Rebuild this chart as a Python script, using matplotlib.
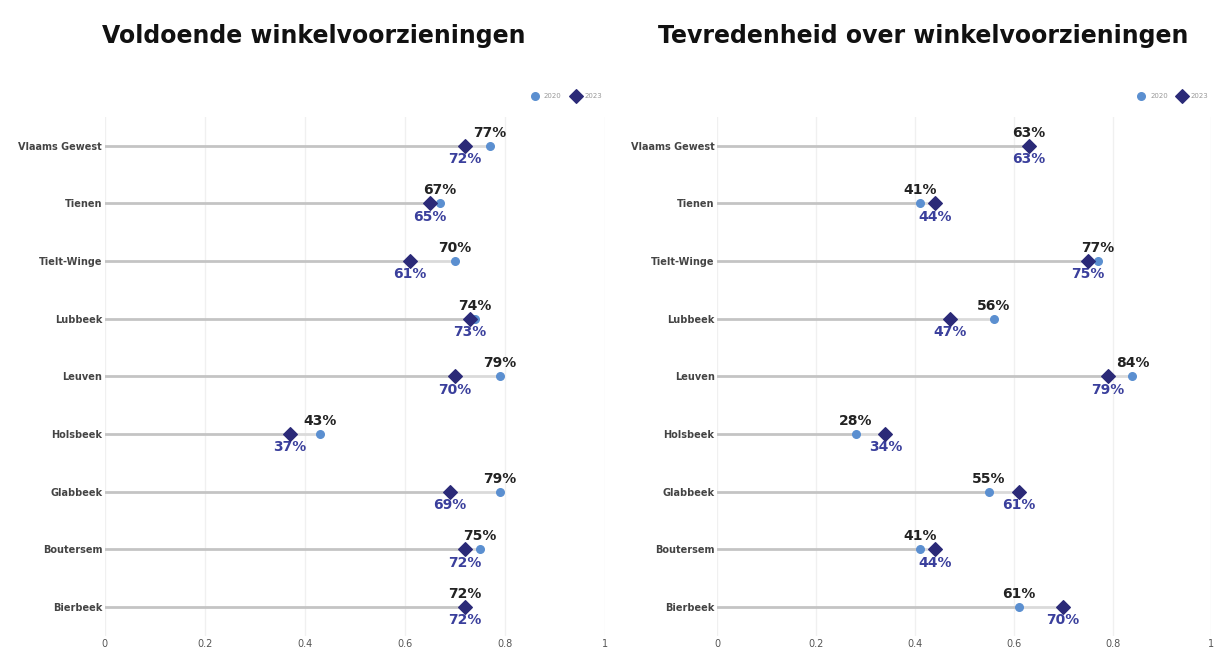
import matplotlib.pyplot as plt
import numpy as np

gemeenten = ["Vlaams Gewest", "Tienen", "Tielt-Winge", "Lubbeek", "Leuven",
             "Holsbeek", "Glabbeek", "Boutersem", "Bierbeek"]

# Voldoende winkelvoorzieningen
voldoende_2020 = [0.77, 0.67, 0.70, 0.74, 0.79, 0.43, 0.79, 0.75, 0.72]
voldoende_2023 = [0.72, 0.65, 0.61, 0.73, 0.70, 0.37, 0.69, 0.72, 0.72]

# Tevredenheid over winkelvoorzieningen
tevreden_2020 = [0.63, 0.41, 0.77, 0.56, 0.84, 0.28, 0.55, 0.41, 0.61]
tevreden_2023 = [0.63, 0.44, 0.75, 0.47, 0.79, 0.34, 0.61, 0.44, 0.70]

xticks = [0, 0.2, 0.4, 0.6, 0.8, 1]
xticklabels = ["0", "0.2", "0.4", "0.6", "0.8", "1"]

c2020 = "#5b8fd0"
c2023 = "#2b2a78"
clabel = "#3a3f9c"

fig = plt.figure(figsize=(12.2, 6.57), dpi=100)
ax1 = fig.add_axes([0.086, 0.032, 0.41, 0.79])
ax2 = fig.add_axes([0.588, 0.032, 0.405, 0.79])


def dumbbell(ax, v2020, v2023, title, title_x):
    y = np.arange(len(gemeenten))
    for i in y:
        lo = min(v2020[i], v2023[i])
        hi = max(v2020[i], v2023[i])
        ax.plot([0, lo], [i, i], color="#c4c4c4", lw=2, zorder=1)
        ax.plot([lo, hi], [i, i], color="#dadada", lw=2, zorder=1)
    ax.scatter(v2020, y, s=30, marker="o", color=c2020, zorder=3, label="2020")
    ax.scatter(v2023, y, s=48, marker="D", color=c2023, zorder=4, label="2023")
    for i in y:
        ax.annotate(f"{round(v2020[i]*100)}%", (v2020[i], i), xytext=(0, 4.5),
                    textcoords="offset points", ha="center", va="bottom",
                    fontsize=10, fontweight="bold", color="#222222")
        ax.annotate(f"{round(v2023[i]*100)}%", (v2023[i], i), xytext=(0, -4.5),
                    textcoords="offset points", ha="center", va="top",
                    fontsize=10, fontweight="bold", color=clabel)
    ax.set_xlim(0, 1)
    ax.set_ylim(len(gemeenten) - 0.5, -0.5)
    ax.set_yticks(y)
    ax.set_yticklabels(gemeenten, fontsize=7, color="#444444", fontweight="semibold")
    ax.set_xticks(xticks)
    ax.set_xticklabels(xticklabels, fontsize=7, color="#555555")
    ax.tick_params(length=0, pad=2)
    ax.grid(axis="x", color="#f0f0f0", lw=1)
    ax.set_axisbelow(True)
    for s in ax.spines.values():
        s.set_visible(False)
    ax.legend(loc="lower right", bbox_to_anchor=(1.0, 1.03), ncol=2, frameon=False,
              fontsize=5, labelcolor="#999999", handletextpad=0.3, columnspacing=1.0,
              borderaxespad=0)
    fig.text(title_x, 0.945, title, ha="center", va="center",
             fontsize=17, fontweight="heavy", color="#111111")


dumbbell(ax1, voldoende_2020, voldoende_2023, "Voldoende winkelvoorzieningen", 0.257)
dumbbell(ax2, tevreden_2020, tevreden_2023, "Tevredenheid over winkelvoorzieningen", 0.757)

fig.savefig("out.png", dpi=100)
